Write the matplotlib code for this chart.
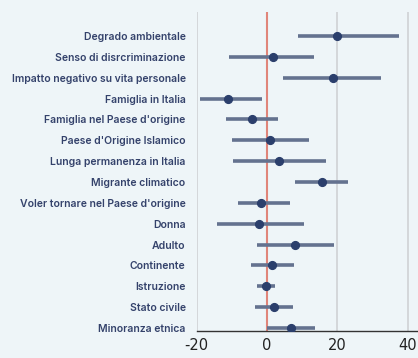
import numpy as np
from matplotlib import pyplot as plt

# coefficienti stimati con intervallo di confidenza
variabili = [
  "Degrado ambientale",
  "Senso di disrcriminazione",
  "Impatto negativo su vita personale",
  "Famiglia in Italia",
  "Famiglia nel Paese d'origine",
  "Paese d'Origine Islamico",
  "Lunga permanenza in Italia",
  "Migrante climatico",
  "Voler tornare nel Paese d'origine",
  "Donna",
  "Adulto",
  "Continente",
  "Istruzione",
  "Stato civile",
  "Minoranza etnica",
]
stima = [19.9, 1.6, 18.6, -11.2, -4.4, 0.8, 3.4, 15.5, -1.7, -2.2, 8.0, 1.5, -0.3, 1.9, 6.8]
ic_basso = [8.9, -10.7, 4.4, -19.1, -11.8, -10.0, -9.8, 8.0, -8.4, -14.3, -2.8, -4.6, -2.9, -3.4, -0.1]
ic_alto = [37.6, 13.3, 32.3, -1.5, 3.1, 11.9, 16.8, 23.1, 6.5, 10.4, 18.9, 7.6, 2.3, 7.5, 13.7]
tick_x = [-20, 0, 20, 40]

sfondo = "#eef5f8"
blu = "#2b3f6c"

fig = plt.figure(figsize=(4.18, 3.58), dpi=100, facecolor=sfondo)
ax = fig.add_axes([0.4706, 0.0763, 0.5294, 0.8902], facecolor=sfondo)

y = np.arange(len(variabili))
stima = np.array(stima)
err = [stima - np.array(ic_basso), np.array(ic_alto) - stima]

# griglia verticale e linea dello zero
for t in tick_x:
  if t != 0:
    ax.axvline(t, color="#cfd2d4", lw=1.2, zorder=0)
ax.axvline(0, color="#e0857a", lw=1.5, zorder=1)

ax.errorbar(stima, y, xerr=err, fmt="o", color=blu, ecolor="#64728f",
            elinewidth=2.6, capsize=0, markersize=5.6, zorder=3)

ax.set_xlim(-20, 42.9)
ax.set_ylim(len(variabili) - 1 + 0.13, -1.15)
ax.set_xticks(tick_x)
ax.set_xticklabels([str(t) for t in tick_x], fontsize=10.5, color="#222222")
ax.tick_params(axis="x", length=0, pad=5)
ax.set_yticks(y)
ax.set_yticklabels(variabili, family=["Inter", "DejaVu Sans"], fontsize=7.5,
                   fontweight="semibold", color="#34426b")
ax.tick_params(axis="y", length=0, pad=8)

for lato in ["top", "right", "left"]:
  ax.spines[lato].set_visible(False)
ax.spines["bottom"].set_color("#333333")
ax.spines["bottom"].set_linewidth(1.0)

fig.savefig("out.png", dpi=100, facecolor=sfondo)
